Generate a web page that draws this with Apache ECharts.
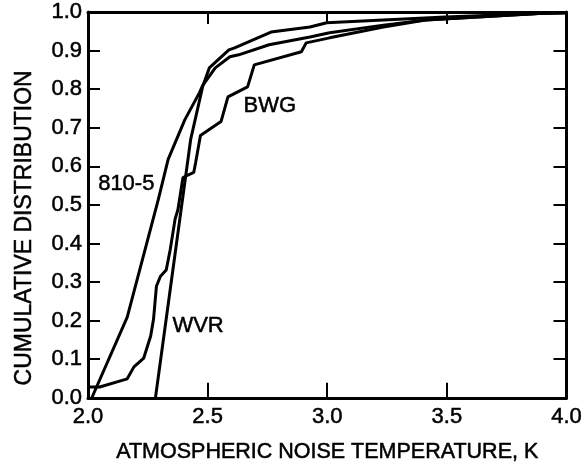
<!DOCTYPE html>
<html>
<head>
<meta charset="utf-8">
<script src="https://cdn.jsdelivr.net/npm/echarts@6/dist/echarts.min.js"></script>
<style>
  html, body { margin: 0; padding: 0; background: #fff; }
  #chart { width: 585px; height: 468px; }
</style>
</head>
<body>
<div id="chart"></div>
<script>
// 810-5 model curve
const x810 = [2.016, 2.164, 2.294, 2.335, 2.405, 2.466, 2.479, 2.532, 2.593, 2.630, 2.757, 2.928, 3.010, 3.235, 3.411, 3.902, 4.0]
const y810 = [0.000, 0.209, 0.514, 0.618, 0.721, 0.791, 0.809, 0.855, 0.884, 0.889, 0.915, 0.935, 0.946, 0.966, 0.979, 0.997, 0.998]

// WVR measurements
const xWvr = [2.282, 2.429, 2.479, 2.507, 2.589, 2.613, 2.765, 2.928, 2.998, 3.493, 3.902, 4.0]
const yWvr = [0.000, 0.669, 0.806, 0.855, 0.902, 0.907, 0.948, 0.961, 0.972, 0.987, 0.997, 0.998]

// BWG curve
const xBwg = [2.000, 2.049, 2.164, 2.192, 2.233, 2.262, 2.274, 2.286, 2.303, 2.327, 2.344, 2.364, 2.376, 2.397, 2.442, 2.450, 2.470, 2.556, 2.585, 2.667, 2.695, 2.892, 2.912, 3.010, 3.235, 3.411, 3.902, 4.0]
const yBwg = [0.028, 0.028, 0.049, 0.080, 0.103, 0.160, 0.204, 0.289, 0.315, 0.331, 0.385, 0.463, 0.488, 0.571, 0.584, 0.610, 0.680, 0.716, 0.780, 0.806, 0.863, 0.897, 0.920, 0.933, 0.961, 0.979, 0.997, 0.998]

// curve names written on the plot
const labelNames = ['810-5', 'BWG', 'WVR']
const labelX = [2.16, 2.76, 2.46]
const labelY = [0.553, 0.757, 0.186]

const FONT = 'Liberation Sans'
const INK = '#000'
const SIZE = 22

// scanned text looks heavier, a thin outline thickens it a bit
const text = (extra) => Object.assign({
    color: INK, fontFamily: FONT, fontSize: SIZE,
    textBorderColor: INK, textBorderWidth: 0.5
}, extra)

const pairs = (xs, ys) => xs.map((x, i) => [x, ys[i]])

const lineSeries = (name, xs, ys) => ({
    name,
    type: 'line',
    data: pairs(xs, ys),
    showSymbol: false,
    smooth: false,
    lineStyle: { color: INK, width: 3 },
    z: 3
})

const tickStyle = (len) => ({ show: true, inside: true, length: len, lineStyle: { color: INK, width: 2 } })
const lineStyle = { show: true, onZero: false, lineStyle: { color: INK, width: 3 } }

const chart = echarts.init(document.getElementById('chart'), null, { renderer: 'canvas' })

chart.setOption({
    animation: false,
    backgroundColor: '#fff',
    grid: { left: 88, right: 8, top: 12, bottom: 69 },
    xAxis: [
        {
            type: 'value', min: 2, max: 4, interval: 0.5, position: 'bottom',
            axisLine: lineStyle,
            axisTick: tickStyle(15),
            splitLine: { show: false },
            axisLabel: text({ margin: 8, formatter: v => v.toFixed(1) }),
            name: 'ATMOSPHERIC NOISE TEMPERATURE, K',
            nameLocation: 'middle', nameGap: 43,
            nameTextStyle: text({ fontSize: 21.5 })
        },
        {
            type: 'value', min: 2, max: 4, interval: 0.5, position: 'top',
            axisLine: lineStyle,
            axisTick: tickStyle(12),
            splitLine: { show: false },
            axisLabel: { show: false }
        }
    ],
    yAxis: [
        {
            type: 'value', min: 0, max: 1, interval: 0.1, position: 'left',
            axisLine: lineStyle,
            axisTick: tickStyle(12),
            splitLine: { show: false },
            axisLabel: text({ margin: 6, formatter: v => v.toFixed(1) }),
            name: 'CUMULATIVE DISTRIBUTION',
            nameLocation: 'middle', nameGap: 52,
            nameTextStyle: text({ fontSize: 23, padding: [0, 46, 0, 0] })
        },
        {
            type: 'value', min: 0, max: 1, interval: 0.1, position: 'right',
            axisLine: lineStyle,
            axisTick: tickStyle(13),
            splitLine: { show: false },
            axisLabel: { show: false }
        }
    ],
    series: [
        lineSeries('810-5', x810, y810),
        lineSeries('WVR', xWvr, yWvr),
        lineSeries('BWG', xBwg, yBwg),
        {
            type: 'scatter',
            symbolSize: 0,
            itemStyle: { opacity: 1 },
            data: labelNames.map((n, i) => ({ name: n, value: [labelX[i], labelY[i]] })),
            label: text({ show: true, position: 'inside', formatter: '{b}', opacity: 1 }),
            z: 4
        }
    ]
})
</script>
</body>
</html>
